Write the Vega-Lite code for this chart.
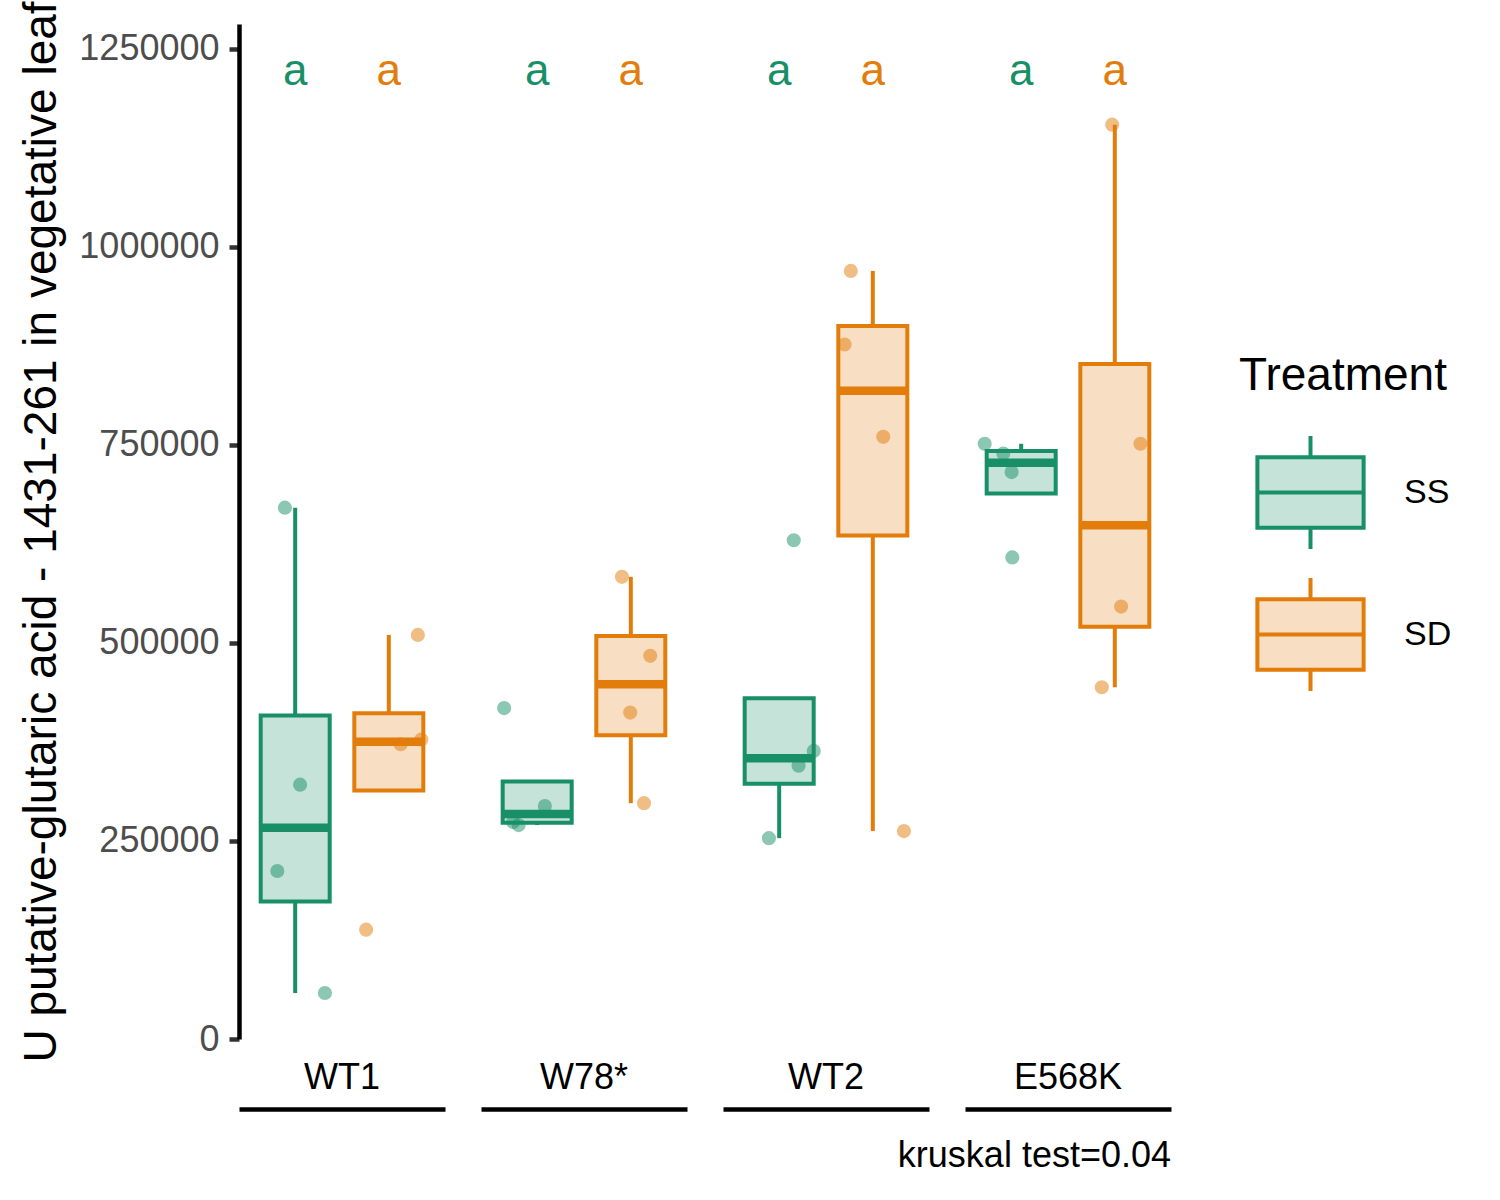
{
  "$schema": "https://vega.github.io/schema/vega-lite/v6.json",
  "background": "white",
  "padding": {"left": 18, "top": 0, "right": 0, "bottom": 0},
  "data": {
    "values": [
      {"Genotype": "WT1", "Treatment": "SS", "value": 670600, "jitter": -0.14, "letter": "a"},
      {"Genotype": "WT1", "Treatment": "SS", "value": 321000, "jitter": 0.08, "letter": "a"},
      {"Genotype": "WT1", "Treatment": "SS", "value": 212000, "jitter": -0.25, "letter": "a"},
      {"Genotype": "WT1", "Treatment": "SS", "value": 58000, "jitter": 0.44, "letter": "a"},
      {"Genotype": "WT1", "Treatment": "SD", "value": 510000, "jitter": 0.43, "letter": "a"},
      {"Genotype": "WT1", "Treatment": "SD", "value": 372000, "jitter": 0.18, "letter": "a"},
      {"Genotype": "WT1", "Treatment": "SD", "value": 378000, "jitter": 0.48, "letter": "a"},
      {"Genotype": "WT1", "Treatment": "SD", "value": 138000, "jitter": -0.32, "letter": "a"},
      {"Genotype": "W78*", "Treatment": "SS", "value": 417600, "jitter": -0.47, "letter": "a"},
      {"Genotype": "W78*", "Treatment": "SS", "value": 294000, "jitter": 0.12, "letter": "a"},
      {"Genotype": "W78*", "Treatment": "SS", "value": 274000, "jitter": -0.34, "letter": "a"},
      {"Genotype": "W78*", "Treatment": "SS", "value": 270000, "jitter": -0.26, "letter": "a"},
      {"Genotype": "W78*", "Treatment": "SD", "value": 583300, "jitter": -0.12, "letter": "a"},
      {"Genotype": "W78*", "Treatment": "SD", "value": 483600, "jitter": 0.29, "letter": "a"},
      {"Genotype": "W78*", "Treatment": "SD", "value": 412000, "jitter": 0.0, "letter": "a"},
      {"Genotype": "W78*", "Treatment": "SD", "value": 297600, "jitter": 0.2, "letter": "a"},
      {"Genotype": "WT2", "Treatment": "SS", "value": 629400, "jitter": 0.22, "letter": "a"},
      {"Genotype": "WT2", "Treatment": "SS", "value": 363600, "jitter": 0.51, "letter": "a"},
      {"Genotype": "WT2", "Treatment": "SS", "value": 345000, "jitter": 0.29, "letter": "a"},
      {"Genotype": "WT2", "Treatment": "SS", "value": 253500, "jitter": -0.14, "letter": "a"},
      {"Genotype": "WT2", "Treatment": "SD", "value": 969400, "jitter": -0.31, "letter": "a"},
      {"Genotype": "WT2", "Treatment": "SD", "value": 876500, "jitter": -0.4, "letter": "a"},
      {"Genotype": "WT2", "Treatment": "SD", "value": 760000, "jitter": 0.16, "letter": "a"},
      {"Genotype": "WT2", "Treatment": "SD", "value": 262400, "jitter": 0.46, "letter": "a"},
      {"Genotype": "E568K", "Treatment": "SS", "value": 751200, "jitter": -0.52, "letter": "a"},
      {"Genotype": "E568K", "Treatment": "SS", "value": 739000, "jitter": -0.25, "letter": "a"},
      {"Genotype": "E568K", "Treatment": "SS", "value": 715500, "jitter": -0.13, "letter": "a"},
      {"Genotype": "E568K", "Treatment": "SS", "value": 607800, "jitter": -0.12, "letter": "a"},
      {"Genotype": "E568K", "Treatment": "SD", "value": 1154000, "jitter": -0.03, "letter": "a"},
      {"Genotype": "E568K", "Treatment": "SD", "value": 751200, "jitter": 0.38, "letter": "a"},
      {"Genotype": "E568K", "Treatment": "SD", "value": 545700, "jitter": 0.1, "letter": "a"},
      {"Genotype": "E568K", "Treatment": "SD", "value": 443900, "jitter": -0.18, "letter": "a"}
    ]
  },
  "facet": {
    "column": {
      "field": "Genotype",
      "type": "nominal",
      "sort": ["WT1", "W78*", "WT2", "E568K"],
      "title": "kruskal test=0.04",
      "header": {
        "labelOrient": "bottom",
        "labelFontSize": 36,
        "labelColor": "black",
        "labelPadding": -48,
        "titleOrient": "bottom",
        "titleAnchor": "end",
        "titleFontSize": 36,
        "titleFontWeight": "normal",
        "titleColor": "black",
        "titlePadding": 20
      }
    }
  },
  "spacing": 36,
  "spec": {
    "width": 206,
    "height": 1015,
    "layer": [
      {
        "mark": {"type": "circle", "size": 200, "opacity": 0.5},
        "encoding": {
          "x": {
            "field": "Treatment",
            "type": "nominal",
            "scale": {"domain": ["SS", "SD"], "paddingInner": 0.25, "paddingOuter": 0.225},
            "axis": {
              "title": null,
              "labels": false,
              "ticks": false,
              "domain": true,
              "domainColor": "black",
              "domainWidth": 4.5,
              "offset": 70
            }
          },
          "xOffset": {
            "field": "jitter",
            "type": "quantitative",
            "scale": {"domain": [-0.5, 0.5], "range": [0, 69]}
          },
          "y": {
            "field": "value",
            "type": "quantitative",
            "title": "U putative-glutaric acid - 1431-261 in vegetative leaf",
            "scale": {"domain": [0, 1281000], "nice": false},
            "axis": {
              "titleFontSize": 46,
              "titleFontWeight": "normal",
              "titleColor": "black",
              "titlePadding": 13,
              "values": [0, 250000, 500000, 750000, 1000000, 1250000],
              "format": "d",
              "labelFontSize": 36,
              "labelColor": "#4D4D4D",
              "labelPadding": 10,
              "grid": false,
              "domainColor": "black",
              "domainWidth": 4.5,
              "tickColor": "#333333",
              "tickWidth": 4.5,
              "tickSize": 10
            }
          },
          "color": {
            "field": "Treatment",
            "type": "nominal",
            "scale": {"domain": ["SS", "SD"], "range": ["#188F66", "#E27D0C"]},
            "legend": {
              "title": "Treatment",
              "orient": "none",
              "legendX": 1000,
              "legendY": 330,
              "titleFontSize": 46,
              "titleFontWeight": "normal",
              "titleColor": "black",
              "titleLimit": 500,
              "titlePadding": 34,
              "labelFontSize": 34,
              "labelColor": "black",
              "labelOffset": 35,
              "rowPadding": 13,
              "symbolType": "M-0.94,-0.625H0.94V0.625H-0.94Z M-0.94,0H0.94 M0,-1V-0.625 M0,0.625V1",
              "symbolSize": 12769,
              "symbolStrokeWidth": 4,
              "symbolOffset": 13,
              "symbolOpacity": 1,
              "encode": {
                "symbols": {
                  "update": {
                    "fill": {"scale": "color", "field": "value"},
                    "stroke": {"scale": "color", "field": "value"},
                    "fillOpacity": {"value": 0.25},
                    "strokeOpacity": {"value": 1},
                    "opacity": {"value": 1},
                    "strokeWidth": {"value": 4}
                  }
                }
              }
            }
          }
        }
      },
      {
        "transform": [
          {"joinaggregate": [{"op": "q1", "field": "value", "as": "q1"}, {"op": "q3", "field": "value", "as": "q3"}], "groupby": ["Genotype", "Treatment"]},
          {"filter": "datum.value >= datum.q1 - 1.5 * (datum.q3 - datum.q1) && datum.value <= datum.q3 + 1.5 * (datum.q3 - datum.q1)"},
          {"aggregate": [
            {"op": "min", "field": "value", "as": "lo"},
            {"op": "max", "field": "value", "as": "hi"},
            {"op": "max", "field": "q1", "as": "q1"},
            {"op": "max", "field": "q3", "as": "q3"}
          ], "groupby": ["Genotype", "Treatment"]},
          {"calculate": "min(datum.lo, datum.q1)", "as": "lo"},
          {"calculate": "max(datum.hi, datum.q3)", "as": "hi"}
        ],
        "layer": [
          {
            "mark": {"type": "rule", "strokeWidth": 4},
            "encoding": {
              "x": {"field": "Treatment", "type": "nominal"},
              "y": {"field": "lo", "type": "quantitative", "title": "U putative-glutaric acid - 1431-261 in vegetative leaf"},
              "y2": {"field": "q1"},
              "color": {"field": "Treatment", "type": "nominal", "legend": null}
            }
          },
          {
            "mark": {"type": "rule", "strokeWidth": 4},
            "encoding": {
              "x": {"field": "Treatment", "type": "nominal"},
              "y": {"field": "q3", "type": "quantitative", "title": "U putative-glutaric acid - 1431-261 in vegetative leaf"},
              "y2": {"field": "hi"},
              "color": {"field": "Treatment", "type": "nominal", "legend": null}
            }
          }
        ]
      },
      {
        "transform": [{"filter": "datum.Treatment == 'SS'"}],
        "mark": {
          "type": "boxplot",
          "extent": 1.5,
          "size": 69,
          "outliers": false,
          "rule": false,
          "box": {"fill": "#188F66", "fillOpacity": 0.25, "stroke": "#188F66", "strokeWidth": 4},
          "median": {"color": "#188F66", "thickness": 8.5, "opacity": 1}
        },
        "encoding": {
          "x": {"field": "Treatment", "type": "nominal"},
          "y": {"field": "value", "type": "quantitative", "title": "U putative-glutaric acid - 1431-261 in vegetative leaf"}
        }
      },
      {
        "transform": [{"filter": "datum.Treatment == 'SD'"}],
        "mark": {
          "type": "boxplot",
          "extent": 1.5,
          "size": 69,
          "outliers": false,
          "rule": false,
          "box": {"fill": "#E27D0C", "fillOpacity": 0.25, "stroke": "#E27D0C", "strokeWidth": 4},
          "median": {"color": "#E27D0C", "thickness": 8.5, "opacity": 1}
        },
        "encoding": {
          "x": {"field": "Treatment", "type": "nominal"},
          "y": {"field": "value", "type": "quantitative", "title": "U putative-glutaric acid - 1431-261 in vegetative leaf"}
        }
      },
      {
        "transform": [
          {"aggregate": [{"op": "count", "as": "n"}], "groupby": ["Genotype", "Treatment", "letter"]}
        ],
        "mark": {"type": "text", "fontSize": 44, "baseline": "middle", "align": "center"},
        "encoding": {
          "x": {"field": "Treatment", "type": "nominal"},
          "y": {"datum": 1220000, "type": "quantitative"},
          "text": {"field": "letter"},
          "color": {"field": "Treatment", "type": "nominal", "legend": null}
        }
      }
    ]
  },
  "config": {
    "font": "Liberation Sans",
    "view": {"stroke": null}
  }
}
